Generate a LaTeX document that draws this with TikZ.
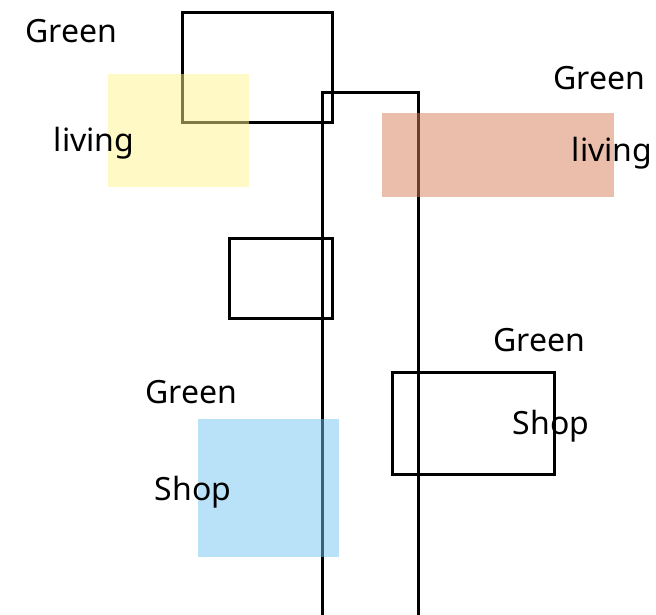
\documentclass[tikz,border=0pt]{standalone}
\usepackage{fontspec}
\setmainfont{Noto Sans}
\definecolor{padyellow}{RGB}{253,243,139}
\definecolor{padsalmon}{RGB}{215,125,89}
\definecolor{padblue}{RGB}{115,195,241}
\begin{document}
\begin{tikzpicture}[x=1pt,y=-1pt,
  outline/.style={draw=black,line width=3pt},
  pad/.style={fill opacity=0.5},
  label/.style={font=\fontsize{32}{38}\selectfont,text=black,inner sep=0pt}]
\useasboundingbox (0,0) rectangle (656,615);
% outlined frames
\draw[outline] (182,13) rectangle (332,123);
\draw[outline] (322,615) -- (322,93) -- (418,93) -- (418,615);
\draw[outline] (229,238) rectangle (332,318);
\draw[outline] (392,372) rectangle (554,474);
% translucent colour pads
\fill[pad,padyellow] (108,74) rectangle (249,187);
\fill[pad,padsalmon] (382,113) rectangle (614,197);
\fill[pad,padblue] (198,419) rectangle (339,557);
% labels
\node[label] (g1) at (71,31) {Green};
\node[label] (l1) at (94,143) {living};
\node[label] (g2) at (599,78) {Green};
\node[label] (l2) at (612,153) {living};
\node[label] (g3) at (539,340) {Green};
\node[label] (s3) at (551,426) {Shop};
\node[label] (g4) at (191,392) {Green};
\node[label] (s4) at (193,492) {Shop};
\end{tikzpicture}
\end{document}
